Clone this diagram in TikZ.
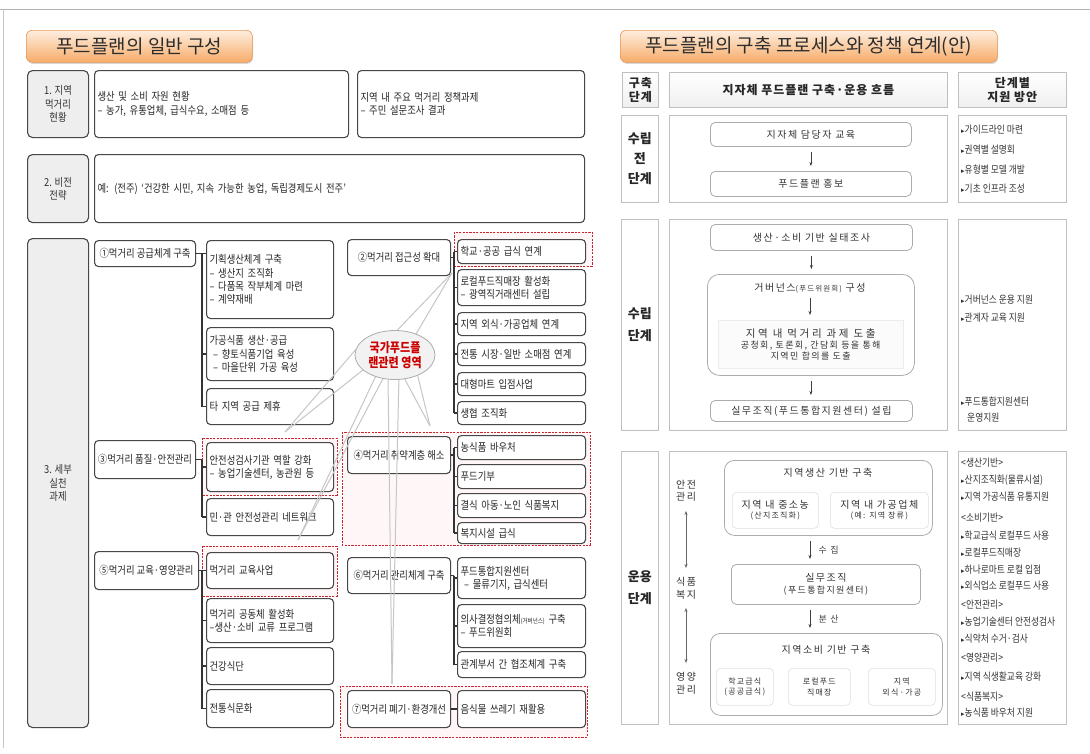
\documentclass[tikz,border=0pt]{standalone}
\usepackage{fontspec}
\setmainfont[FakeStretch=0.85]{Noto Sans CJK KR}
\newfontfamily\tf{Noto Sans CJK KR}
\newfontfamily\rf[LetterSpace=15]{Noto Sans CJK KR}
\newfontfamily\rfw[LetterSpace=25]{Noto Sans CJK KR}
\newfontfamily\rfh[LetterSpace=8]{Noto Sans CJK KR}
\newfontfamily\dvs{DejaVu Sans}
\usetikzlibrary{shapes.geometric,arrows.meta,shadows}
\definecolor{ttop}{RGB}{254,238,224}
\definecolor{tbot}{RGB}{247,172,104}
\definecolor{tbrd}{RGB}{232,150,84}
\definecolor{ink}{RGB}{45,45,45}
\definecolor{rdash}{RGB}{205,35,45}
\newcommand\fsz{\fontsize{11}{13.2}\selectfont}
\newcommand\fsr{\rf\fontsize{10}{12.5}\selectfont}
\newcommand\fsc{\fontsize{10.3}{12}\selectfont}
\newcommand\tri{{\dvs\fontsize{7}{7}\selectfont ▸}}
\tikzset{
  ttl/.style={draw=tbrd, line width=0.6pt, rounded corners=6pt, top color=ttop, bottom color=tbot,
     drop shadow={opacity=0.3, shadow xshift=0.8pt, shadow yshift=-1.6pt},
     text=ink, font=\tf\fontsize{19}{21}\selectfont, inner sep=0pt, anchor=north west},
  lbl/.style={draw=black!72, line width=1.1pt, rounded corners=5pt, fill=gray!13, inner sep=1pt,
     anchor=north west, align=center, font=\fsz, text=black!80},
  bx/.style={draw=black!72, line width=1.1pt, rounded corners=4pt, fill=white, inner xsep=3pt, inner ysep=1pt,
     anchor=north west, align=left, font=\fsz, text=black!85},
  cat/.style={draw=black!72, line width=1.1pt, rounded corners=4pt, fill=white, inner sep=1pt,
     anchor=north west, align=center, font=\fsz, text=black!85},
  rd/.style={draw=rdash, dash pattern=on 2.2pt off 1.2pt, line width=0.7pt, fill=red!3},
  trk/.style={black!80, line width=1.3pt},
  gl/.style={gray!45, line width=1pt},
  hd/.style={draw=gray!50, line width=0.6pt, top color=white, bottom color=gray!12, anchor=north west, align=center, inner sep=0pt, font=\rfh\bfseries\fontsize{12}{14}\selectfont, text=black!85},
  cell/.style={draw=gray!50, line width=0.6pt, fill=white, anchor=north west, align=center, inner sep=0pt},
  fl/.style={draw=gray!65, line width=0.8pt, rounded corners=5pt, fill=white, anchor=north west, align=center, inner sep=0pt, font=\fsr, text=black!80},
  sb/.style={draw=gray!25, line width=0.6pt, rounded corners=4pt, anchor=north west, align=center, inner sep=0pt, font=\rf\fontsize{8}{10.5}\selectfont, text=black!80},
  tx/.style={align=center, inner sep=0pt, font=\fsr, text=black!80},
  rt/.style={anchor=west, inner sep=0pt, font=\fsc, text=black!80},
  arr/.style={-{Stealth[length=4pt,width=3pt]}, black!75, line width=0.6pt, shorten <=5pt, shorten >=5pt},
  darr/.style={{Stealth[length=4pt,width=3pt]}-{Stealth[length=4pt,width=3pt]}, black!60, line width=0.6pt, shorten <=9pt, shorten >=9pt},
}
% style, name, x, y, w, h, text
\newcommand\BX[7]{\pgfmathsetmacro\tw{#5-6}\node[#1, minimum width=#5, minimum height=#6, text width=\tw pt] (#2) at (#3,#4) {#7};}
\newcommand\CX[7]{\node[#1, minimum width=#5, minimum height=#6] (#2) at (#3,#4) {#7};}
\begin{document}
\begin{tikzpicture}[x=1pt,y=-1pt]
\useasboundingbox (0,0) rectangle (1090,753);
\fill[white] (0,0) rectangle (1090,753);
\draw[gray!60, line width=1pt] (0,9) -- (1090,9);
\draw[gray!45, line width=0.8pt] (3,9) -- (3,748);

% ================= LEFT PANEL =================
\CX{ttl}{tl}{26}{30}{226}{32}{푸드플랜의 일반 구성}

\CX{lbl}{l1}{27}{70}{61}{67}{1. 지역\\먹거리\\현황}
\BX{bx}{b1a}{94}{70}{254}{67}{생산 및 소비 자원 현황\\– 농가, 유통업체, 급식수요, 소매점 등}
\BX{bx}{b1b}{357}{70}{227}{67}{지역 내 주요 먹거리 정책과제\\– 주민 설문조사 결과}
\CX{lbl}{l2}{27}{154}{61}{68}{2. 비전\\전략}
\BX{bx}{b2}{94}{154}{490}{68}{예: (전주) ‘건강한 시민, 지속 가능한 농업, 독립경제도시 전주’}
\CX{lbl}{l3}{27}{238}{61}{489}{3. 세부\\실천\\과제}

% red dashed groups (drawn under boxes)
\draw[rd] (454,232) rectangle (592,266);
\draw[rd] (202,438) rectangle (337,495);
\draw[rd] (342,432) rectangle (590,545);
\draw[rd] (202,546) rectangle (337,596);
\draw[rd] (340,686) rectangle (587,737);

% category boxes
\CX{cat}{c1}{94}{240}{101}{26}{①먹거리 공급체계 구축}
\CX{cat}{c3}{94}{440}{101}{38}{③먹거리 품질·안전관리}
\CX{cat}{c5}{94}{551}{104}{38}{⑤먹거리 교육·영양관리}
\CX{cat}{c2}{347}{239}{103}{36}{②먹거리 접근성 확대}
\CX{cat}{c4}{347}{436}{103}{37}{④먹거리 취약계층 해소}
\CX{cat}{c6}{347}{557}{103}{36}{⑥먹거리 관리체계 구축}
\CX{cat}{c7}{347}{690}{103}{37}{⑦먹거리 폐기·환경개선}

% left sub boxes
\BX{bx}{s1a}{206}{240}{127}{78}{기획생산체계 구축\\– 생산지 조직화\\– 다품목 작부체계 마련\\– 계약재배}
\BX{bx}{s1b}{206}{327}{127}{53}{가공식품 생산·공급\\\ – 향토식품기업 육성\\\ – 마을단위 가공 육성}
\BX{bx}{s1c}{206}{388}{127}{36}{타 지역 공급 제휴}
\BX{bx}{s3a}{206}{442}{127}{49}{안전성검사기관 역할 강화\\– 농업기술센터, 농관원 등}
\BX{bx}{s3b}{206}{498}{127}{37}{민·관 안전성관리 네트워크}
\BX{bx}{s5a}{206}{552}{127}{36}{먹거리 교육사업}
\BX{bx}{s5b}{206}{598}{127}{44}{먹거리 공동체 활성화\\–생산·소비 교류 프로그램}
\BX{bx}{s5c}{206}{647}{127}{37}{건강식단}
\BX{bx}{s5d}{206}{689}{127}{38}{전통식문화}

% right sub boxes
\BX{bx}{s2a}{457}{239}{128}{24}{학교·공공 급식 연계}
\BX{bx}{s2b}{457}{269}{128}{36}{로컬푸드직매장 활성화\\– 광역직거래센터 설립}
\BX{bx}{s2c}{457}{312}{128}{23}{지역 외식·가공업체 연계}
\BX{bx}{s2d}{457}{342}{128}{23}{전통 시장·일반 소매점 연계}
\BX{bx}{s2e}{457}{372}{128}{23}{대형마트 입점사업}
\BX{bx}{s2f}{457}{401}{128}{23}{생협 조직화}
\BX{bx}{s4a}{457}{435}{128}{24}{농식품 바우처}
\BX{bx}{s4b}{457}{464}{128}{24}{푸드기부}
\BX{bx}{s4c}{457}{493}{128}{24}{결식 아동·노인 식품복지}
\BX{bx}{s4d}{457}{522}{128}{21}{복지시설 급식}
\BX{bx}{s6a}{457}{557}{128}{41}{푸드통합지원센터\\\ – 물류기지, 급식센터}
\BX{bx}{s6b}{457}{604}{128}{43}{의사결정협의체{\fontsize{6.5}{6.5}\selectfont(거버넌스)} 구축\\– 푸드위원회}
\BX{bx}{s6c}{457}{651}{128}{26}{관계부서 간 협조체계 구축}
\BX{bx}{s7a}{457}{690}{128}{37}{음식물 쓰레기 재활용}

% trunks
\coordinate (tA) at (202,0);
\coordinate (tB) at (454,0);
\draw[trk] (c1.east) -- (c1.east -| s1a.west);
\draw[trk] (c1.east -| tA) -- (s1c.west -| tA);
\draw[trk] (s1b.west -| tA) -- (s1b.west);
\draw[trk] (s1c.west -| tA) -- (s1c.west);

\draw[trk] (c3.east) -- (c3.east -| tA);
\draw[trk] (c3.east -| tA) -- (s3b.west -| tA);
\draw[trk] (s3a.west -| tA) -- (s3a.west);
\draw[trk] (s3b.west -| tA) -- (s3b.west);

\draw[trk] (c5.east) -- (s5a.west);
\draw[trk] (s5a.west -| tA) -- (s5d.west -| tA);
\draw[trk] (s5b.west -| tA) -- (s5b.west);
\draw[trk] (s5c.west -| tA) -- (s5c.west);
\draw[trk] (s5d.west -| tA) -- (s5d.west);

\draw[trk] (c2.east) -- (c2.east -| tB);
\draw[trk] (s2a.west -| tB) -- (s2f.west -| tB);
\foreach \s in {s2a,s2b,s2c,s2d,s2e,s2f} \draw[trk] (\s.west -| tB) -- (\s.west);

\draw[trk] (c4.east) -- (c4.east -| tB);
\draw[trk] (s4a.west -| tB) -- (s4d.west -| tB);
\foreach \s in {s4a,s4b,s4c,s4d} \draw[trk] (\s.west -| tB) -- (\s.west);

\draw[trk] (c6.east) -- (c6.east -| tB);
\draw[trk] (c6.east -| tB) -- (s6c.west -| tB);
\foreach \s in {s6a,s6b,s6c} \draw[trk] (\s.west -| tB) -- (\s.west);

\draw[trk] (c7.east) -- (s7a.west);

% national food plan ellipse and links
\node[ellipse, minimum width=80, minimum height=49, inner sep=0pt] (natp) at (395,355) {};
\coordinate (g1) at (452,273);
\coordinate (g2) at (285,432);
\coordinate (g3) at (298,540);
\coordinate (g4) at (430,426);
\coordinate (g5) at (392,684);
\draw[gl] (natp.85) -- (g1);
\draw[gl] (natp.45) -- (g1);
\draw[gl] (natp.172) -- (g2);
\draw[gl] (natp.205) -- (g2);
\draw[gl] (natp.228) -- (g3);
\draw[gl] (natp.243) -- (g3);
\draw[gl] (natp.292) -- (g4);
\draw[gl] (natp.318) -- (g4);
\draw[gl] (natp.254) -- (g5);
\draw[gl] (natp.279) -- (g5);
\node[ellipse, draw=gray!65, line width=0.8pt, fill=gray!10, minimum width=80, minimum height=49, inner sep=0pt, align=center, text=red!80!black, font=\bfseries\fontsize{13}{15}\selectfont] (nat) at (395,355) {국가푸드플\\랜관련 영역};

% ================= RIGHT PANEL =================
\CX{ttl}{tr}{620}{30}{377}{32}{푸드플랜의 구축 프로세스와 정책 연계(안)}

\CX{hd}{hc1}{622}{72}{36}{35}{구축\\단계}
\CX{hd}{hc2}{669}{72}{278}{35}{지자체 푸드플랜 구축·운용 흐름}
\CX{hd}{hc3}{958}{72}{108}{35}{단계별\\지원 방안}

\node[cell, minimum width=37, minimum height=87, font=\tf\bfseries\fontsize{13}{20}\selectfont, text=black!85] (a1) at (621,115) {수립\\전\\단계};
\node[cell, minimum width=278, minimum height=87] (a2) at (669,115) {};
\node[cell, minimum width=108, minimum height=87] (a3) at (958,115) {};
\node[cell, minimum width=37, minimum height=211, font=\tf\bfseries\fontsize{13}{22}\selectfont, text=black!85] (b1) at (621,219) {수립\\단계};
\node[cell, minimum width=278, minimum height=211] (b2) at (669,219) {};
\node[cell, minimum width=108, minimum height=211] (b3) at (958,219) {};
\node[cell, minimum width=37, minimum height=273, font=\tf\bfseries\fontsize{13}{22}\selectfont, text=black!85] (d1) at (621,451) {운용\\단계};
\node[cell, minimum width=278, minimum height=273] (d2) at (669,451) {};
\node[cell, minimum width=108, minimum height=273] (d3) at (958,451) {};

% row 1 flow
\CX{fl}{f1}{710}{122}{201}{24}{지자체 담당자 교육}
\CX{fl}{f2}{710}{171}{201}{25}{푸드플랜 홍보}
\draw[arr] (f1) -- (f2);

% row 2 flow
\CX{fl}{f3}{710}{224}{202}{26}{생산·소비 기반 실태조사}
\node[fl, minimum width=207, minimum height=101, rounded corners=12pt] (gov) at (707,274) {};
\node[tx] (govt) at (810,288) {거버넌스{\fontsize{7.5}{9}\selectfont(푸드위원회)} 구성};
\node[draw=gray!15, fill=gray!3, anchor=north west, minimum width=185, minimum height=48, inner sep=0pt, align=center, text=black!80] (gtask) at (718,320)
  {{\rfw\fontsize{10.5}{13}\selectfont 지역 내 먹거리 과제 도출}\\[-1pt]{\rf\fontsize{9}{11}\selectfont 공청회, 토론회, 간담회 등을 통해}\\[-1pt]{\rf\fontsize{9}{11}\selectfont 지역민 합의를 도출}};
\CX{fl}{f4}{710}{400}{202}{21}{실무조직(푸드통합지원센터) 설립}
\draw[arr] (f3.south) -- (f3.south |- gov.north);
\draw[arr] (govt) -- (govt |- gtask.north);
\draw[arr] (gov.south) -- (gov.south |- f4.north);

% row 3 flow
\node[tx] (lt1) at (686,491) {안전\\관리};
\node[tx] (lt2) at (686,588) {식품\\복지};
\node[tx] (lt3) at (686,683) {영양\\관리};
\draw[darr] (lt1) -- (lt2);
\draw[darr] (lt2) -- (lt3);

\node[fl, minimum width=208, minimum height=75, rounded corners=10pt] (prod) at (724,460) {};
\node[tx] (prodt) at (828,473) {지역생산 기반 구축};
\CX{sb}{pa}{732}{492}{86}{36}{{\fsr 지역 내 중소농}\\(산지조직화)}
\CX{sb}{pb}{830}{492}{98}{36}{{\fsr 지역 내 가공업체}\\(예: 지역 장류)}
\CX{fl}{org}{731}{564}{189}{40}{실무조직\\{\fontsize{9}{13}\selectfont(푸드통합지원센터)}}
\node[fl, minimum width=232, minimum height=82, rounded corners=10pt] (cons) at (710,633) {};
\node[tx] (const) at (826,650) {지역소비 기반 구축};
\CX{sb}{ca}{716}{668}{57}{37}{학교급식\\(공공급식)}
\CX{sb}{cb}{788}{668}{62}{37}{로컬푸드\\직매장}
\CX{sb}{cc}{868}{668}{67}{37}{지역\\외식·가공}
\coordinate (ax) at (810,0);
\draw[arr] (prod.south -| ax) -- (org.north -| ax) node[midway, right=5pt, font=\rf\fontsize{9}{10}\selectfont, text=black!75] {수 집};
\draw[arr] (org.south -| ax) -- (cons.north -| ax) node[midway, right=5pt, font=\rf\fontsize{9}{10}\selectfont, text=black!75] {분 산};

% ---- column 3 texts ----
\node[rt] (p1) at (961,130) {\tri 가이드라인 마련};
\node[rt] (p2) at (961,150) {\tri 권역별 설명회};
\node[rt] (p3) at (961,170) {\tri 유형별 모델 개발};
\node[rt] (p4) at (961,189) {\tri 기초 인프라 조성};

\node[rt] (q1) at (961,300) {\tri 거버넌스 운용 지원};
\node[rt] (q2) at (961,318) {\tri 관계자 교육 지원};
\node[rt] (q3) at (961,402) {\tri 푸드통합지원센터};
\node[rt] (q4) at (967,418) {운영지원};

\node[rt] (u1) at (961,463) {<생산기반>};
\node[rt] (u2) at (961,480) {\tri 산지조직화(물류시설)};
\node[rt] (u3) at (961,497) {\tri 지역 가공식품 유통지원};
\node[rt] (u4) at (961,518) {<소비기반>};
\node[rt] (u5) at (961,536) {\tri 학교급식 로컬푸드 사용};
\node[rt] (u6) at (961,553) {\tri 로컬푸드직매장};
\node[rt] (u7) at (961,570) {\tri 하나로마트 로컬 입점};
\node[rt] (u8) at (961,586) {\tri 외식업소 로컬푸드 사용};
\node[rt] (u9) at (961,605) {<안전관리>};
\node[rt] (u10) at (961,622) {\tri 농업기술센터 안전성검사};
\node[rt] (u11) at (961,639) {\tri 식약처 수거·검사};
\node[rt] (u12) at (961,658) {<영양관리>};
\node[rt] (u13) at (961,677) {\tri 지역 식생활교육 강화};
\node[rt] (u14) at (961,697) {<식품복지>};
\node[rt] (u15) at (961,713) {\tri 농식품 바우처 지원};
\end{tikzpicture}
\end{document}
